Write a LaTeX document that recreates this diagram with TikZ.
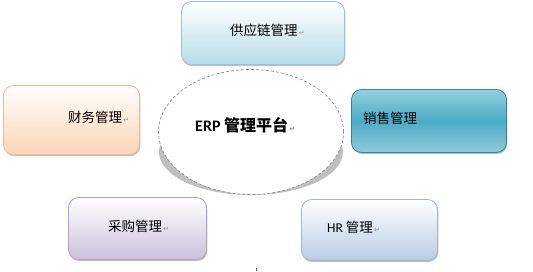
\documentclass[tikz,border=0pt]{standalone}
\usepackage{fontspec}
\setmainfont{Carlito}
\newfontfamily\cjk{Noto Sans CJK SC}
\newfontfamily\dejavu{DejaVu Sans}
\usetikzlibrary{shapes.geometric,shadows}
\definecolor{scmfill}{HTML}{B6DDE8}
\definecolor{scmline}{HTML}{9CC3CE}
\definecolor{finfill}{HTML}{FBD4B4}
\definecolor{finline}{HTML}{E8BC98}
\definecolor{saletop}{HTML}{92CFDE}
\definecolor{salemid}{HTML}{4BACC6}
\definecolor{salebot}{HTML}{8FCADA}
\definecolor{saleline}{HTML}{31859C}
\definecolor{purfill}{HTML}{CCC0DA}
\definecolor{purline}{HTML}{B2A5C4}
\definecolor{hrfill}{HTML}{B8CCE4}
\definecolor{hrline}{HTML}{A0B6D0}
\definecolor{dashcol}{HTML}{8E8A9E}
\newcommand{\retmark}{{\dejavu\fontsize{7}{7}\selectfont\color{black!45}\,↵}}
\tikzset{
  modbox/.style={rounded corners=10pt, line width=0.8pt, inner sep=0pt,
    drop shadow={shadow xshift=0.8pt, shadow yshift=-1.6pt, fill=black, opacity=0.25}},
  modtext/.style={anchor=west, inner sep=0pt, font=\cjk\fontsize{13.5}{14}\selectfont},
}
\begin{document}
\begin{tikzpicture}[x=1pt,y=-1pt]
\useasboundingbox (0,0) rectangle (533,271);
% central ellipse with shadow
\fill[black!25] (251,152) ellipse [x radius=92, y radius=43];
\node[ellipse, draw=dashcol, dashed, dash pattern=on 3pt off 2pt, line width=0.7pt,
  fill=white, minimum width=185pt, minimum height=125pt, inner sep=0pt] (erp) at (251,132) {};
\node[anchor=west, inner sep=0pt] (erptext) at (195,125)
  {\fontsize{16}{17}\selectfont\bfseries ERP\ {\cjk\bfseries 管理平台}\retmark};
% top box
\node[modbox, draw=scmline, top color=white, bottom color=scmfill,
  minimum width=163pt, minimum height=63pt] (scm) at (263,33) {};
\node[modtext] (scmtext) at (230,30) {供应链管理\retmark};
% left box
\node[modbox, draw=finline, top color=white, bottom color=finfill,
  minimum width=136pt, minimum height=69pt] (fin) at (71.5,120) {};
\node[modtext] (fintext) at (68,117) {财务管理\retmark};
% right box
\node[modbox, draw=saleline, top color=saletop, bottom color=salebot, middle color=salemid,
  minimum width=155pt, minimum height=63pt] (sale) at (429,121) {};
\node[modtext] (saletext) at (363,118) {销售管理\retmark};
% bottom left box
\node[modbox, draw=purline, top color=white, bottom color=purfill,
  minimum width=138pt, minimum height=62pt] (pur) at (137.5,228.5) {};
\node[modtext] (purtext) at (108,226) {采购管理\retmark};
% bottom right box
\node[modbox, draw=hrline, top color=white, bottom color=hrfill,
  minimum width=136pt, minimum height=61pt] (hr) at (369.5,230) {};
\node[modtext] (hrtext) at (327,227) {{\rmfamily HR} 管理\retmark};
% small tick
\coordinate (tka) at (256,268);
\coordinate (tkb) at (256,271);
\draw[black!60, line width=0.6pt] (tka) -- (tkb);
\end{tikzpicture}
\end{document}
